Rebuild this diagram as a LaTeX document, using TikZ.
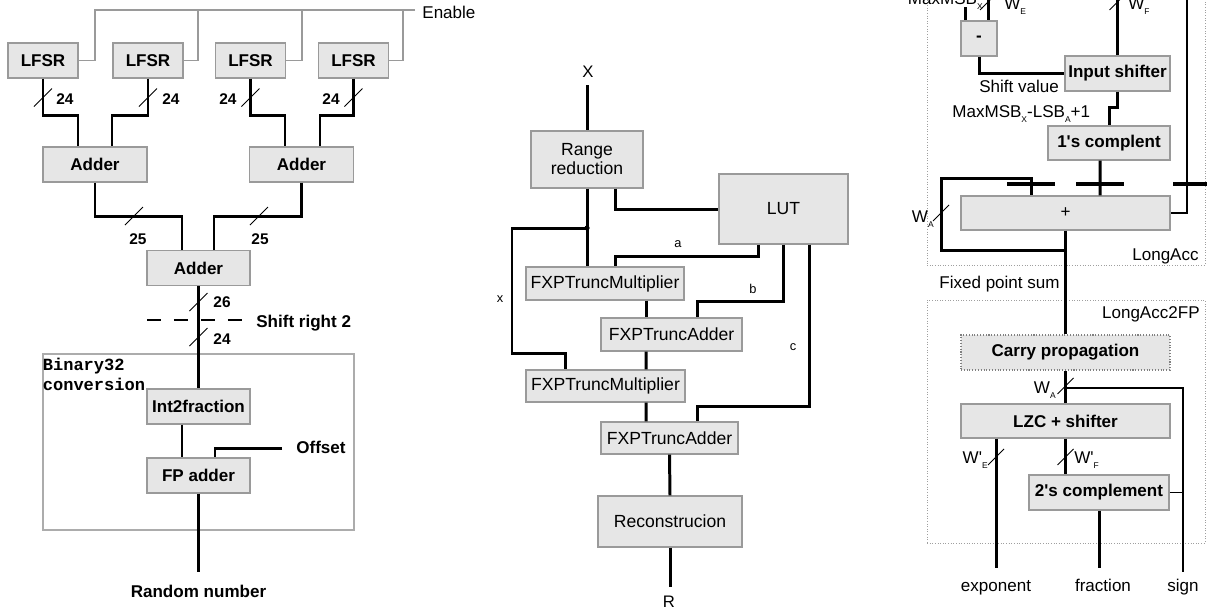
\documentclass[tikz,border=0pt]{standalone}
\usepackage{fontspec}
\setmainfont{Liberation Sans}
\setmonofont{Liberation Mono}
\usetikzlibrary{calc}

\definecolor{boxFill}{HTML}{E6E6E6}
\definecolor{boxLine}{HTML}{9A9A9A}

% lowered small subscript used in the right block
\newcommand{\lsub}[1]{\raisebox{-3.4pt}{\fontsize{4.8}{5}\selectfont #1}}
% bus width slash
\newcommand{\busTick}[2][9]{\draw[tickLine] ($(#2)+(-#1,#1)$) -- ($(#2)+(#1,-#1)$);}

\begin{document}
\begin{tikzpicture}[x=0.02cm,y=-0.02cm,
      font=\fontsize{9.7}{11.5}\selectfont,
      boxSize/.style 2 args={minimum width=#1*0.02cm,minimum height=#2*0.02cm},
      blockBold/.style={draw=boxLine,fill=boxFill,line width=0.6pt,inner sep=0pt,font=\fontsize{9.7}{11.5}\selectfont\bfseries},
      blockPlain/.style={draw=boxLine,fill=boxFill,line width=0.6pt,inner sep=0pt,align=center,font=\fontsize{10}{10.8}\selectfont},
      blockThin/.style={draw=boxLine,fill=boxFill,line width=0.6pt,inner sep=0pt},
      busLine/.style={line width=1.7pt},
      ctrlLine/.style={line width=0.6pt,boxLine},
      thinLine/.style={line width=0.6pt},
      tickLine/.style={line width=0.5pt},
      regBar/.style={line width=2.1pt},
      frameBox/.style={draw=gray!65,line width=0.6pt,inner sep=0pt},
      dotFrame/.style={draw=gray!75,densely dotted,line width=0.5pt,inner sep=0pt},
      lbl/.style={inner sep=0pt,anchor=base},
      lblBold/.style={lbl,font=\fontsize{9.7}{11.5}\selectfont\bfseries},
      numLbl/.style={lbl,font=\fontsize{8.8}{10}\selectfont\bfseries},
      smallLbl/.style={lbl,font=\fontsize{7.3}{8}\selectfont},
    ]

    \useasboundingbox (0,0) rectangle (1207,613);
    \clip (0,0) rectangle (1207,613);

    %%% random number generator
    \node[blockBold,boxSize={70}{35}] (lfsrA) at (43,60.5) {LFSR};
    \node[blockBold,boxSize={70}{35}] (lfsrB) at (148,60.5) {LFSR};
    \node[blockBold,boxSize={70}{35}] (lfsrC) at (250.5,60.5) {LFSR};
    \node[blockBold,boxSize={70}{35}] (lfsrD) at (353.5,60.5) {LFSR};

    \node[lbl,anchor=base west,inner xsep=4pt] (enable) at (415,18) {Enable};
    \coordinate (enA) at (95,10);
    \coordinate (enB) at (198,10);
    \coordinate (enC) at (302,10);
    \coordinate (enD) at (403,10);
    \draw[ctrlLine] (enable.west |- enA) -- (enA) |- (lfsrA.east);
    \draw[ctrlLine] (enB) |- (lfsrB.east);
    \draw[ctrlLine] (enC) |- (lfsrC.east);
    \draw[ctrlLine] (enD) |- (lfsrD.east);

    \node[blockBold,boxSize={104}{35}] (addA) at (95,164.5) {Adder};
    \node[blockBold,boxSize={104}{35}] (addB) at (301.5,164.5) {Adder};
    \node[blockBold,boxSize={103}{35}] (addC) at (198.5,268) {Adder};

    \draw[busLine] (lfsrA.south) -- ++(0,37) -| ($(addA.north)+(-17,0)$);
    \draw[busLine] (lfsrB.south) -- ++(0,37) -| ($(addA.north)+(17,0)$);
    \draw[busLine] (lfsrC.south) -- ++(0,37) -| ($(addB.north)+(-16.5,0)$);
    \draw[busLine] (lfsrD.south) -- ++(0,37) -| ($(addB.north)+(18.5,0)$);
    \coordinate (tA) at ($(lfsrA.south)+(0,19)$);
    \coordinate (tB) at ($(lfsrB.south)+(0,19)$);
    \coordinate (tC) at ($(lfsrC.south)+(0,19)$);
    \coordinate (tD) at ($(lfsrD.south)+(0,19)$);
    \busTick{tA} \busTick{tB} \busTick{tC} \busTick{tD}
    \node[numLbl] (wA) at (65,104) {24};
    \node[numLbl] (wB) at (171,104) {24};
    \node[numLbl] (wC) at (228,104) {24};
    \node[numLbl] (wD) at (331,104) {24};

    \draw[busLine] (addA.south) -- ++(0,34) -| ($(addC.north)+(-16.5,0)$);
    \draw[busLine] (addB.south) -- ++(0,34) -| ($(addC.north)+(15.5,0)$);
    \busTick{134,216} \busTick{259,216}
    \node[numLbl] (wE) at (138,244) {25};
    \node[numLbl] (wF) at (260,244) {25};

    \node[frameBox,boxSize={311}{176}] (conv) at (198.5,442) {};
    \node[inner sep=0pt,anchor=north west,align=left,font=\fontsize{9.7}{11.3}\selectfont\ttfamily\bfseries] (convLbl)
      at ($(conv.north west)+(0,4)$) {Binary32\\conversion};

    \node[blockBold,boxSize={103}{35}] (intFrac) at (198.5,406.5) {Int2fraction};
    \node[blockBold,boxSize={103}{35}] (fpAdd) at (198.5,475.5) {FP adder};

    \draw[busLine] (addC.south) -- (intFrac.north);
    \busTick{198.5,302} \busTick{198.5,337}
    \node[numLbl] (wG) at (222,307) {26};
    \node[numLbl] (wH) at (222,344) {24};
    \draw[thinLine,dash pattern=on 0.28cm off 0.26cm] (147,320) -- (243,320);
    \node[lblBold,anchor=base west] (shiftTwo) at (256,327) {Shift right 2};

    \draw[busLine] ($(intFrac.south)+(-16.5,0)$) -- ($(fpAdd.north)+(-16.5,0)$);
    \node[lblBold,anchor=base west] (offset) at (296,453) {Offset};
    \coordinate (offEnd) at (282,448);
    \draw[busLine] (offEnd) -| ($(fpAdd.north)+(16.5,0)$);
    \coordinate (rndOut) at (198.5,572);
    \draw[busLine] (fpAdd.south) -- (rndOut);
    \node[lblBold] (rnd) at (198.5,597) {Random number};

    %%% polynomial evaluation
    \node[lbl,font=\fontsize{9.5}{10}\selectfont] (xIn) at (588,77) {X};
    \coordinate (xTop) at (587,85);
    \node[blockPlain,boxSize={112}{57}] (rangeRed) at (587,159.5) {Range\\reduction};
    \node[blockPlain,boxSize={129}{70}] (lut) at (783.5,209) {LUT};
    \node[blockPlain,boxSize={158}{33}] (mulA) at (605,283.5) {FXPTruncMultiplier};
    \node[blockPlain,boxSize={141}{33}] (fxAddA) at (671.5,334.5) {FXPTruncAdder};
    \node[blockPlain,boxSize={159}{32}] (mulB) at (605.5,386) {FXPTruncMultiplier};
    \node[blockPlain,boxSize={137}{32}] (fxAddB) at (669.5,438) {FXPTruncAdder};
    \node[blockPlain,boxSize={144}{51}] (recon) at (670,521.5) {Reconstrucion};
    \coordinate (rOut) at (670,587);
    \node[lbl,font=\fontsize{9.5}{10}\selectfont] (rLbl) at (669,607) {R};

    \draw[busLine] (xTop) -- (rangeRed.north);
    \draw[busLine] ($(rangeRed.south)+(28,0)$) |- (lut.west);
    \draw[busLine] (rangeRed.south) -- (rangeRed.south |- mulA.north);
    \coordinate (xJoin) at (587,228);
    \fill (xJoin) circle (2.6);
    \draw[busLine] (xJoin) -| (512,353) -| ($(mulB.north)+(-40.5,0)$);
    \node[smallLbl] (xLbl) at (500,302) {x};

    \draw[busLine] ($(lut.south)+(-25.5,0)$) -- ++(0,12) -| ($(mulA.north)+(10,0)$);
    \node[smallLbl] (aLbl) at (678,247) {a};
    \draw[busLine] ($(mulA.south)+(41,0)$) -- ($(fxAddA.north)+(-25.5,0)$);
    \draw[busLine] (lut.south) -- ++(0,57) -| ($(fxAddA.north)+(25.5,0)$);
    \node[smallLbl] (bLbl) at (753,293) {b};
    \draw[busLine] ($(fxAddA.south)+(-25.5,0)$) -- ($(mulB.north)+(40.5,0)$);
    \draw[busLine] ($(mulB.south)+(40.5,0)$) -- ($(fxAddB.north)+(-23.5,0)$);
    \draw[busLine] ($(lut.south)+(25.5,0)$) -- ++(0,162) -| ($(fxAddB.north)+(27.5,0)$);
    \node[smallLbl] (cLbl) at (793,350) {c};
    \draw[busLine] (fxAddB.south) -- (recon.north);
    \draw[busLine] (recon.south) -- (rOut);

    %%% long accumulator
    \node[dotFrame,boxSize={278}{275}] (longAcc) at (1066,127.5) {};
    \node[dotFrame,boxSize={278}{243}] (longAccFP) at (1066,421.5) {};
    \node[lbl,anchor=base east] (longAccLbl) at (1199,260) {LongAcc};
    \node[lbl,anchor=base east] (longAccFPLbl) at (1200,318) {LongAcc2FP};

    \node[blockBold,boxSize={36}{35}] (subtr) at (979,38.5) {-};
    \coordinate (msbIn) at (965,7);
    \coordinate (weIn) at (988,-6);
    \draw[busLine] (msbIn) -- (msbIn |- subtr.north);
    \draw[busLine] (weIn) -- (weIn |- subtr.north);
    \busTick[8]{988,2}
    \node[lbl,anchor=base east] (msbLbl) at (983,4) {MaxMSB\lsub{X}};
    \node[lbl,anchor=base west] (weLbl) at (1004,9) {W\lsub{E}};

    \node[blockBold,boxSize={105}{35}] (inShift) at (1117.5,73.5) {Input shifter};
    \coordinate (wfIn) at (1117.5,-6);
    \draw[busLine] (wfIn) -- (inShift.north);
    \busTick[8]{1117.5,2}
    \node[lbl,anchor=base west] (wfLbl) at (1128,9) {W\lsub{F}};

    \draw[busLine] (subtr.south) |- (inShift.west);
    \node[lbl,anchor=base west] (shiftLbl) at (979,92) {Shift value};
    \node[lbl,anchor=base west] (rangeLbl) at (952,117) {MaxMSB\lsub{X}-LSB\lsub{A}+1};

    \node[blockBold,boxSize={122}{34}] (onesC) at (1109,143) {1\textquotesingle s complent};
    \draw[busLine] (inShift.south) -- ++(0,16) -| (onesC.north);

    \node[blockThin,boxSize={209}{34}] (acc) at (1065.5,213) {+};
    \draw[busLine] ($(onesC.south)+(-9,0)$) -- ($(acc.north)+(34.5,0)$);
    \draw[regBar] (1007,184) -- (1055,184);
    \draw[regBar] (1076,184) -- (1124,184);
    \draw[regBar] (1173,184) -- (1207,184);
    \coordinate (fbTop) at (1187,-6);
    \draw[thinLine] (fbTop) |- (acc.east);
    \coordinate (sumJoin) at (1065.5,250);
    \draw[busLine] (sumJoin) -| (941,178) -| ($(acc.north)+(-34.5,0)$);
    \busTick[8]{941,213}
    \node[lbl,anchor=base east] (waLbl) at (934,222) {W\lsub{A}};

    \node[blockBold,draw=gray,densely dotted,boxSize={209}{35}] (carry) at (1065.5,352.5) {Carry propagation};
    \draw[busLine] (acc.south) -- (carry.north);
    \node[lbl,anchor=base west] (fpsLbl) at (939,288) {Fixed point sum};

    \node[blockBold,boxSize={209}{34}] (lzc) at (1065.5,421) {LZC + shifter};
    \draw[busLine] (carry.south) -- (lzc.north);
    \busTick[8]{1065.5,386}
    \node[lbl,anchor=base east] (waLblB) at (1056,393) {W\lsub{A}};

    \node[blockBold,boxSize={140}{35}] (twosC) at (1099,492.5) {2\textquotesingle s complement};
    \coordinate (signJoin) at (1065.5,388);
    \coordinate (signOut) at (1183,572);
    \draw[thinLine] (signJoin) -| (signOut);
    \draw[thinLine] (twosC.east) -- (twosC.east -| signOut);

    \coordinate (expOut) at (996,568);
    \coordinate (fracOut) at (1099,568);
    \draw[busLine] ($(lzc.south)+(-69.5,0)$) -- (expOut);
    \draw[busLine] (lzc.south) -- (lzc.south |- twosC.north);
    \draw[busLine] (twosC.south) -- (fracOut);
    \busTick[8]{996,457} \busTick[8]{1065.5,457}
    \node[lbl,anchor=base east] (weLblB) at (988,463) {W\textquotesingle\lsub{E}};
    \node[lbl,anchor=base west] (wfLblB) at (1074,463) {W\textquotesingle\lsub{F}};

    \node[lbl] (expLbl) at (996,591) {exponent};
    \node[lbl] (fracLbl) at (1103,591) {fraction};
    \node[lbl] (signLbl) at (1183,591) {sign};

\end{tikzpicture}
\end{document}
